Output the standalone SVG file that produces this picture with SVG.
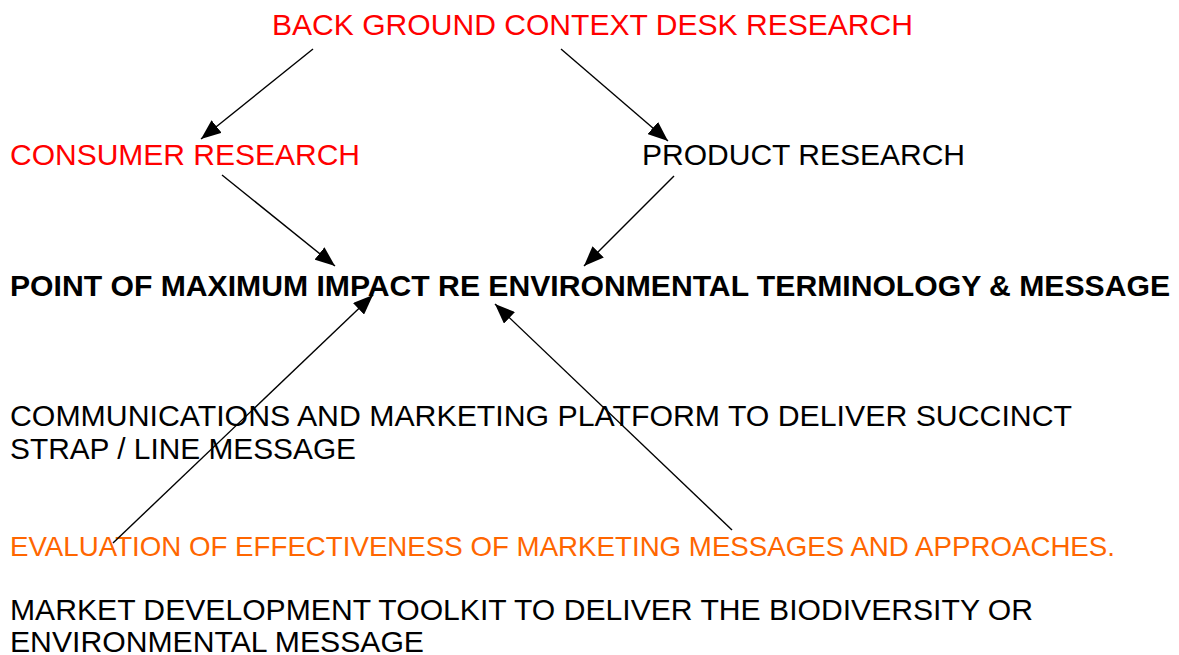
<svg xmlns="http://www.w3.org/2000/svg" width="1179" height="655" viewBox="0 0 1179 655">
  <style>
    text { font-family: "Liberation Sans", Arial, sans-serif; font-size: 30px; fill: #000; }
    .red { fill: #FF0000; }
    .orange { fill: #FF6600; font-size: 27.5px; }
    .bold { font-weight: bold; }
    .conn line { stroke: #000; stroke-width: 1.4; marker-end: url(#arrow); }
  </style>
  <defs>
    <marker id="arrow" markerUnits="userSpaceOnUse" markerWidth="20" markerHeight="16" refX="20" refY="8" orient="auto">
      <path d="M0,0 L20,8 L0,16 z" fill="#000"/>
    </marker>
  </defs>
  <rect width="1179" height="655" fill="#fff"/>

  <g id="desk-research"><text class="red" x="272" y="35" textLength="641" lengthAdjust="spacingAndGlyphs">BACK GROUND CONTEXT DESK RESEARCH</text></g>
  <g id="consumer-research"><text class="red" x="10" y="165" textLength="350" lengthAdjust="spacingAndGlyphs">CONSUMER RESEARCH</text></g>
  <g id="product-research"><text x="642" y="165" textLength="323" lengthAdjust="spacingAndGlyphs">PRODUCT RESEARCH</text></g>
  <g id="max-impact"><text class="bold" x="10" y="296" textLength="1160" lengthAdjust="spacingAndGlyphs">POINT OF MAXIMUM IMPACT RE ENVIRONMENTAL TERMINOLOGY &amp; MESSAGE</text></g>
  <g id="comms-platform">
    <text x="10" y="426" textLength="1062" lengthAdjust="spacingAndGlyphs">COMMUNICATIONS AND MARKETING PLATFORM TO DELIVER SUCCINCT</text>
    <text x="10" y="459" textLength="346" lengthAdjust="spacingAndGlyphs">STRAP / LINE MESSAGE</text>
  </g>
  <g id="evaluation"><text class="orange" x="10" y="556" textLength="1105" lengthAdjust="spacingAndGlyphs">EVALUATION OF EFFECTIVENESS OF MARKETING MESSAGES AND APPROACHES.</text></g>
  <g id="toolkit">
    <text x="10" y="620" textLength="1023" lengthAdjust="spacingAndGlyphs">MARKET DEVELOPMENT TOOLKIT TO DELIVER THE BIODIVERSITY OR</text>
    <text x="10" y="652" textLength="414" lengthAdjust="spacingAndGlyphs">ENVIRONMENTAL MESSAGE</text>
  </g>

  <g id="connectors" class="conn">
    <line x1="313" y1="49" x2="201" y2="139"/>
    <line x1="561" y1="49" x2="668" y2="141"/>
    <line x1="222" y1="175" x2="335" y2="266"/>
    <line x1="674" y1="176" x2="584" y2="266"/>
    <line x1="113" y1="543" x2="373" y2="295"/>
    <line x1="732" y1="530" x2="495" y2="304"/>
  </g>
</svg>
